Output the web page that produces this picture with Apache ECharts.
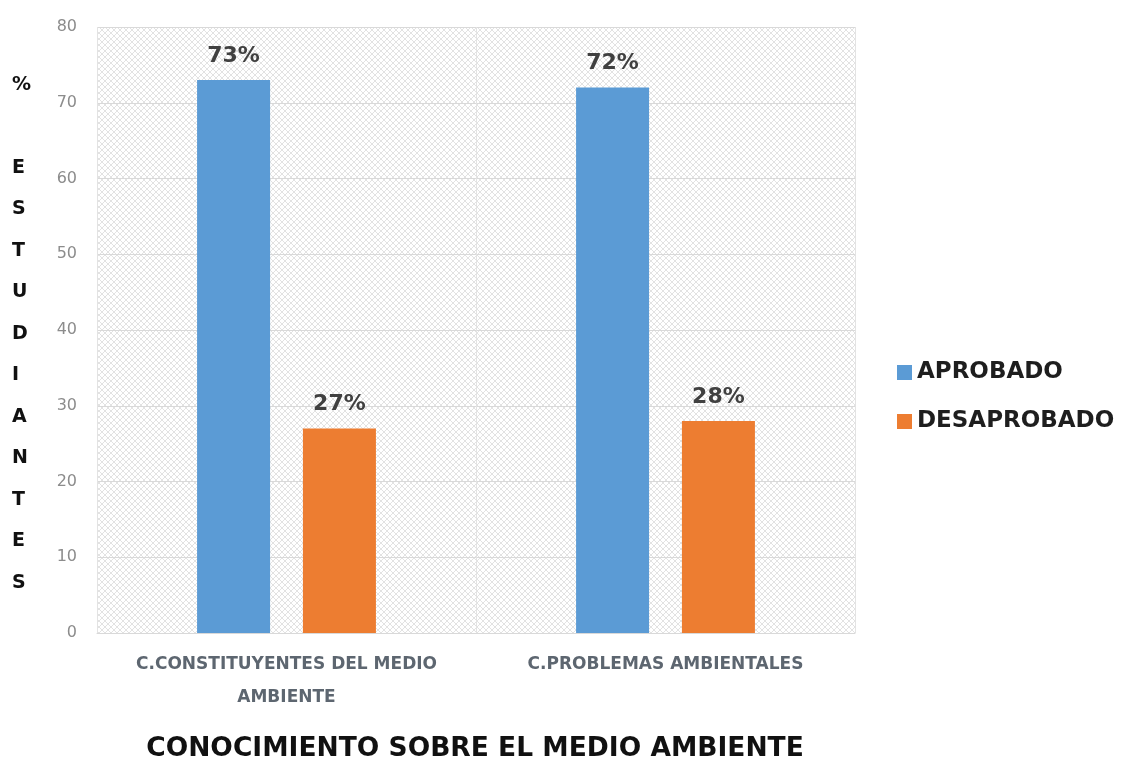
<!DOCTYPE html>
<html>
<head>
<meta charset="utf-8">
<script src="https://cdn.jsdelivr.net/npm/echarts@6/dist/echarts.min.js"></script>
<style>
  html, body { margin: 0; padding: 0; background: #ffffff; }
  #chart { width: 1123px; height: 757px; }
</style>
</head>
<body>
<div id="chart"></div>
<script>
// Categories, series values and axis ticks
const categories = ['C.CONSTITUYENTES DEL MEDIO\nAMBIENTE', 'C.PROBLEMAS AMBIENTALES'];
const aprobado = [73, 72];
const desaprobado = [27, 28];
const yTicks = [0, 10, 20, 30, 40, 50, 60, 70, 80];
const chartTitle = 'CONOCIMIENTO SOBRE EL MEDIO AMBIENTE';
const yAxisTitle = '%\n\nE\nS\nT\nU\nD\nI\nA\nN\nT\nE\nS';

const FONT = '"DejaVu Sans", "Noto Sans", sans-serif';

// Light crosshatch fill for the plotting area
function hatchPattern() {
  const c = document.createElement('canvas');
  c.width = 6; c.height = 6;
  const g = c.getContext('2d');
  g.fillStyle = '#ffffff';
  g.fillRect(0, 0, 6, 6);
  g.strokeStyle = '#e2e2e2';
  g.lineWidth = 1;
  g.beginPath();
  g.moveTo(0, 0); g.lineTo(6, 6);
  g.moveTo(6, 0); g.lineTo(0, 6);
  g.stroke();
  return c;
}

const chart = echarts.init(document.getElementById('chart'), null, { renderer: 'canvas' });

const barLabel = {
  show: true,
  position: 'top',
  distance: 13,
  formatter: '{c}%',
  fontFamily: FONT,
  fontSize: 22,
  fontWeight: 'bold',
  color: '#404040'
};

chart.setOption({
  animation: false,
  backgroundColor: '#ffffff',
  title: {
    text: chartTitle,
    left: 470,
    top: 731,
    textAlign: 'center',
    textStyle: { fontFamily: FONT, fontSize: 26.5, fontWeight: 'bold', color: '#111111' }
  },
  graphic: [{
    type: 'text',
    left: 12,
    top: 64,
    style: {
      text: yAxisTitle,
      fontFamily: FONT,
      fontSize: 19,
      fontWeight: 'bold',
      lineHeight: 41.5,
      fill: '#111111',
      align: 'center'
    }
  }],
  legend: {
    orient: 'vertical',
    left: 892,
    top: 356,
    itemWidth: 15,
    itemHeight: 15,
    itemGap: 26,
    icon: 'rect',
    textStyle: { fontFamily: FONT, fontSize: 23, fontWeight: 'bold', color: '#1e1e1e' },
    data: ['APROBADO', 'DESAPROBADO']
  },
  grid: {
    left: 97,
    right: 268,
    top: 27,
    bottom: 124,
    show: true,
    borderWidth: 0,
    backgroundColor: { image: hatchPattern(), repeat: 'repeat' }
  },
  xAxis: {
    type: 'category',
    data: categories,
    axisLine: { show: true, lineStyle: { color: '#d9d9d9', width: 1 } },
    axisTick: { show: false },
    splitLine: { show: true, lineStyle: { color: '#e3e3e3', width: 1 } },
    axisLabel: {
      interval: 0,
      margin: 15,
      fontFamily: FONT,
      fontSize: 17,
      fontWeight: 'bold',
      lineHeight: 33,
      color: '#5d6670'
    }
  },
  yAxis: {
    type: 'value',
    min: 0,
    max: 80,
    interval: 10,
    axisLine: { show: false },
    axisTick: { show: false },
    splitLine: { show: true, lineStyle: { color: '#d9d9d9', width: 1 } },
    axisLabel: {
      margin: 20,
      fontFamily: FONT,
      fontSize: 16,
      color: '#8c8c8c',
      formatter: v => (yTicks.includes(v) ? String(v) : '')
    }
  },
  series: [
    {
      name: 'APROBADO',
      type: 'bar',
      data: aprobado,
      barWidth: 73,
      barGap: '45%',
      itemStyle: { color: '#5b9bd5' },
      label: barLabel
    },
    {
      name: 'DESAPROBADO',
      type: 'bar',
      data: desaprobado,
      barWidth: 73,
      itemStyle: { color: '#ed7d31' },
      label: barLabel
    }
  ]
});
</script>
</body>
</html>
